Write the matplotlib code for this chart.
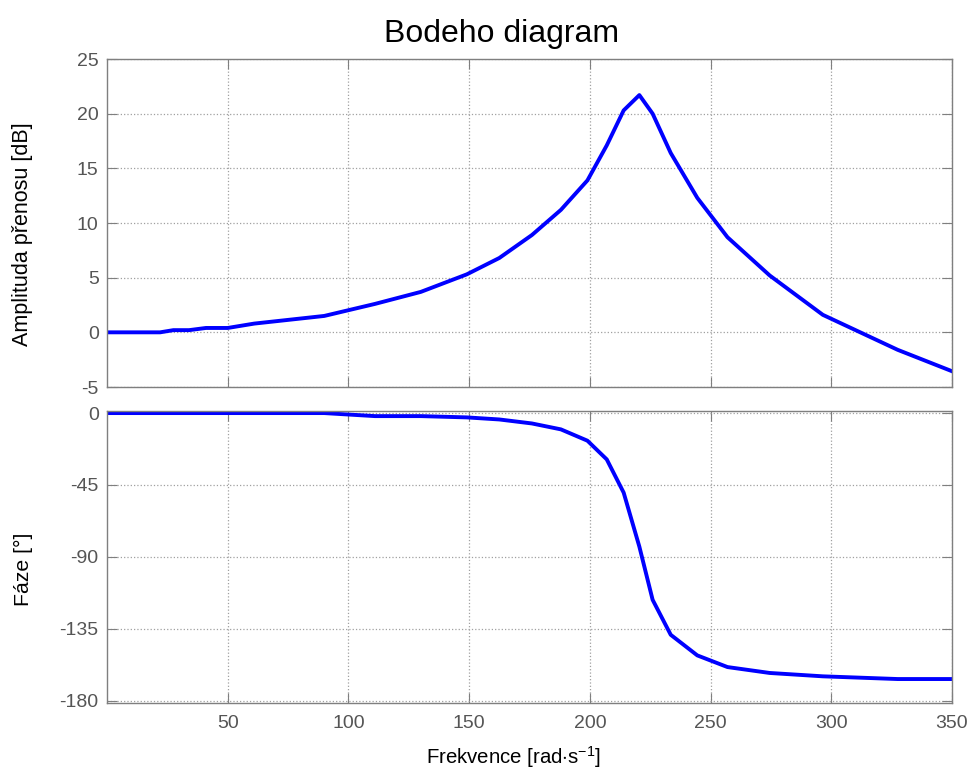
import matplotlib
matplotlib.use("Agg")
import matplotlib.pyplot as plt

plt.rcParams['font.family'] = ['Liberation Sans', 'DejaVu Sans']
plt.rcParams['mathtext.fontset'] = 'custom'
plt.rcParams['mathtext.rm'] = 'Liberation Sans'
plt.rcParams['mathtext.it'] = 'Liberation Sans'
plt.rcParams['axes.unicode_minus'] = False

freq = [0, 22, 27.5, 34, 41, 50, 61, 90, 111, 130, 149, 162.5, 176, 188, 199,
        207, 214, 220.5, 226, 233.5, 244.5, 257, 274.5, 296.5, 327.5, 350.5]
amp_db = [0, 0, 0.2, 0.2, 0.4, 0.4, 0.8, 1.5, 2.6, 3.7, 5.3, 6.8, 8.9, 11.2, 13.9,
          17.1, 20.3, 21.7, 20.0, 16.4, 12.3, 8.7, 5.2, 1.6, -1.6, -3.6]
phase_deg = [0, 0, 0, 0, 0, 0, 0, 0, -1.9, -1.9, -2.7, -4, -6.5, -10.2, -17.3,
             -29, -49.8, -83.6, -116.9, -138.8, -151.7, -159, -162.7, -164.8, -166.5, -166.5]

xticks = [50, 100, 150, 200, 250, 300, 350]
amp_ticks = [-5, 0, 5, 10, 15, 20, 25]
phase_ticks = [-180, -135, -90, -45, 0]

W, H = 971, 771
fig = plt.figure(figsize=(W / 100, H / 100), dpi=100)
ax1 = fig.add_axes([107 / W, 1 - 387 / H, 845 / W, 328 / H])
ax2 = fig.add_axes([107 / W, 1 - 703 / H, 845 / W, 292 / H])

edge = '#7f7f7f'
tickc = '#555555'
for ax in (ax1, ax2):
    ax.grid(True, color='#a0a0a0', linestyle=':', linewidth=0.9)
    ax.tick_params(direction='in', top=True, right=True, length=7, width=0.8,
                   colors=edge, labelcolor=tickc, labelsize=14, pad=6)
    for s in ax.spines.values():
        s.set_color(edge)
        s.set_linewidth(1.0)
    ax.set_xlim(0, 350)
    ax.set_xticks(xticks)

ax1.plot(freq, amp_db, color='#0000ff', linewidth=2.8)
ax1.set_ylim(-5, 25)
ax1.set_yticks(amp_ticks)
ax1.tick_params(labelbottom=False)
ax1.set_ylabel('Amplituda přenosu [dB]', fontsize=15.5)
fig.text(502 / W, 1 - 42 / H, 'Bodeho diagram', fontsize=23,
         ha='center', va='baseline', color='black')

ax2.plot(freq, phase_deg, color='#0000ff', linewidth=2.8)
ax2.set_ylim(-181.5, 1.3)
ax2.set_yticks(phase_ticks)
ax2.tick_params(axis='x', pad=9)
ax2.set_ylabel('Fáze [°]', fontsize=15.3)
ax2.set_xlabel(r'Frekvence [rad$\cdot$s$^{-1}$]', fontsize=14.7)

ax1.yaxis.set_label_coords(-0.087, 0.466)
ax2.yaxis.set_label_coords(-0.087, 0.459)
ax2.xaxis.set_label_coords(0.4805, -0.14)

fig.savefig('out.png', dpi=100)
